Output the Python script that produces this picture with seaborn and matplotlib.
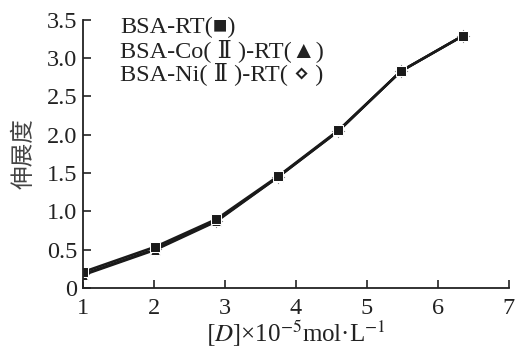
import seaborn as sns
import matplotlib.pyplot as plt
import pandas as pd

conc = [1.0, 2.02, 2.88, 3.75, 4.6, 5.48, 6.35]
rt = [0.21, 0.54, 0.90, 1.46, 2.06, 2.83, 3.29]
co = [0.17, 0.50, 0.87, 1.45, 2.05, 2.83, 3.29]
ni = [0.18, 0.51, 0.88, 1.45, 2.05, 2.83, 3.29]
names = ["BSA-RT", "BSA-Co(Ⅱ)-RT", "BSA-Ni(Ⅱ)-RT"]
legend_lines = ["BSA-RT(■)", "BSA-Co( Ⅱ )-RT(▲)", "BSA-Ni( Ⅱ )-RT( ⋄ )"]

data = pd.DataFrame({
    'conc': conc * 3,
    'value': rt + co + ni,
    'sample': [names[0]] * 7 + [names[1]] * 7 + [names[2]] * 7,
})

sns.set_style("ticks")
plt.rcParams['font.family'] = ['Liberation Serif', 'DejaVu Serif', 'DejaVu Sans']
plt.rcParams['mathtext.fontset'] = 'stix'

fig = plt.figure(figsize=(5.15, 3.48), dpi=100)
ax = fig.add_axes([0.161, 0.172, 0.827, 0.771])

sns.lineplot(data=data, x='conc', y='value', hue='sample', style='sample',
             palette=['#1a1a1a'] * 3, markers={names[0]: 's', names[1]: '^', names[2]: 'D'},
             dashes=False, linewidth=1.8, markersize=7.5, ax=ax, legend=False,
             hue_order=names[::-1], style_order=names[::-1])

ax.set_xlim(1, 7)
ax.set_ylim(0, 3.5)
ax.set_xticks(range(1, 8))
ax.set_yticks([0, 0.5, 1.0, 1.5, 2.0, 2.5, 3.0, 3.5])
ax.set_yticklabels(['0', '0.5', '1.0', '1.5', '2.0', '2.5', '3.0', '3.5'])
ax.tick_params(direction='in', length=6, width=1.2, labelsize=17.5, colors='#222222', pad=4)
ax.tick_params(axis='x', pad=7)
sns.despine(ax=ax)
for s in ['left', 'bottom']:
    ax.spines[s].set_linewidth(1.3)
    ax.spines[s].set_color('#222222')

for i, t in enumerate(legend_lines):
    ax.text(0.087, 0.97 - i * 0.086, t, transform=ax.transAxes, fontsize=17.5,
            va='center', ha='left', color='#222222')

ax.set_xlabel(r'$[D]$×10$^{-5}$mol·L$^{-1}$', fontsize=18, color='#222222', labelpad=0)
ax.set_ylabel('伸展度', fontsize=17, color='#444444',
              family=['Noto Sans CJK SC', 'DejaVu Sans'], labelpad=8)

plt.savefig('out.png', dpi=100)
